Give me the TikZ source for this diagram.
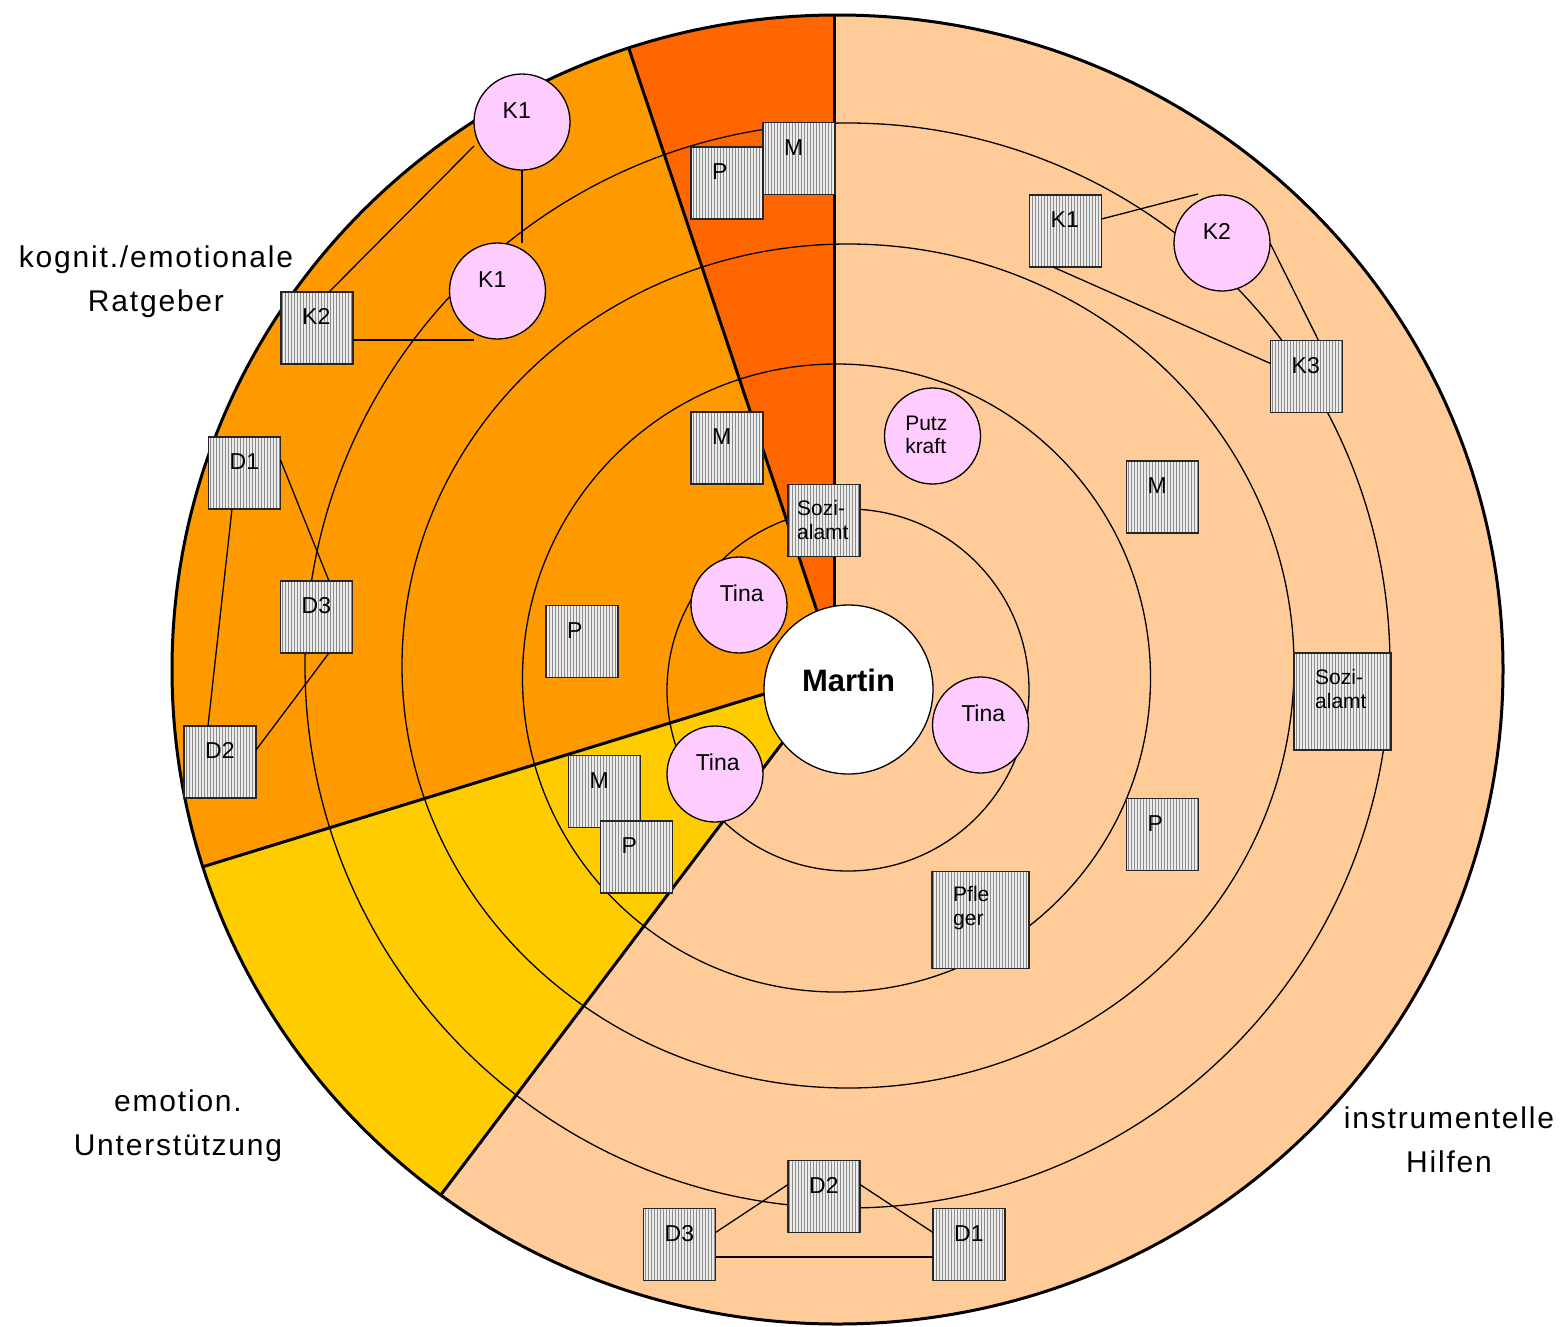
\documentclass[tikz,border=0pt]{standalone}
\usepackage{fontspec}
\setmainfont{Liberation Sans}
\usetikzlibrary{patterns.meta,calc}
\definecolor{peach}{HTML}{FFCC99}
\definecolor{redor}{HTML}{FF6600}
\definecolor{orng}{HTML}{FF9900}
\definecolor{yel}{HTML}{FFCC00}
\definecolor{pinkp}{HTML}{FFCCFF}
\begin{document}
\begin{tikzpicture}[x=1pt,y=-1pt,
  ring/.style={draw=black, line width=1.3pt},
  divider/.style={draw=black, line width=3pt},
  person/.style={circle, draw=black, line width=1.3pt, fill=pinkp, minimum size=96pt, inner sep=0pt, outer sep=0pt},
  inst/.style={rectangle, draw=black!85, line width=1.3pt, minimum size=72pt, inner sep=0pt, outer sep=0pt,
     preaction={fill=gray!15}, pattern={Lines[angle=90,distance=3pt,line width=1pt]}, pattern color=black!45},
  bigbox/.style={inst, minimum size=97pt},
  lab/.style 2 args={anchor=north west, inner sep=0pt, xshift=#1, yshift=#2, align=left, font=\fontsize{23}{27}\selectfont},
  smalllab/.style 2 args={lab={#1}{#2}, font=\fontsize{21}{24}\selectfont},
  link/.style={draw=black, line width=1.3pt},
  cat/.style={anchor=north, inner sep=0pt, align=center, font=\fontsize{30}{44.5}\selectfont\addfontfeature{LetterSpace=6}},
]
\useasboundingbox (0,0) rectangle (1563,1326);

% sectors
\begin{scope}
  \clip (837.5,669.5) ellipse [x radius=665.5pt, y radius=654.5pt];
  \fill[peach] (-100,-100) rectangle (1700,1450);
  \fill[redor] (834,-100) -- (834,672) -- (837.2,671.5) -- (579.2,-100) -- cycle;
  \fill[orng] (579.2,-100) -- (837.2,671.5) -- (-100,960) -- (-100,-100) -- cycle;
  \fill[yel] (-100,960) -- (836.5,671.6) -- (285.9,1400) -- (-100,1400) -- cycle;
  % rings
  \draw[ring] (848,690) circle [radius=181pt];
  \draw[ring] (836.5,678) circle [radius=314pt];
  \draw[ring] (848,666) ellipse [x radius=446pt, y radius=422pt];
  \draw[ring] (847.5,665.5) circle [radius=542.5pt];
  % dividers
  \draw[divider] (834,-100) -- (834,672);
  \draw[divider] (579.2,-100) -- (837.2,671.5);
  \draw[divider] (-100,960) -- (837.2,671.5);
  \draw[divider] (285.9,1400) -- (836,671.8);
\end{scope}
\draw[line width=3pt] (837.5,669.5) ellipse [x radius=665.5pt, y radius=654.5pt];

% centre
\node[circle, draw=black, line width=1.3pt, fill=white, minimum size=169pt, inner sep=0pt, outer sep=0pt,
  text depth=18pt, font=\bfseries\fontsize{31}{36}\selectfont] (martin) at (848.5,689.5) {Martin};

% persons (circles)
\node[person, label={[lab={-53.4pt}{56.8pt}]south east:{\strut K1}}] (k1a) at (522,122) {};
\node[person, label={[lab={-53.4pt}{56.8pt}]south east:{\strut K1}}] (k1b) at (497.5,291) {};
\node[person, label={[lab={-53.4pt}{56.8pt}]south east:{\strut K2}}] (k2b) at (1222,243) {};
\node[person, label={[smalllab={-61.4pt}{56pt}, font=\fontsize{21}{23}\selectfont]south east:{\strut Putz\\kraft}}] (putz) at (932.5,436) {};
\node[person, label={[lab={-53.4pt}{56.8pt}]south east:{\strut Tina}}] (tina1) at (739,605) {};
\node[person, label={[lab={-53.4pt}{56.8pt}]south east:{\strut Tina}}] (tina2) at (980.5,725) {};
\node[person, label={[lab={-53.4pt}{56.8pt}]south east:{\strut Tina}}] (tina3) at (715,774) {};

% institutions (boxes)
\node[inst, label={[lab={-51pt}{58.4pt}]south east:{\strut M}}] (mA) at (799,158.5) {};
\node[inst, label={[lab={-51pt}{58.4pt}]south east:{\strut P}}] (pA) at (727,183) {};
\node[inst, label={[lab={-51pt}{58.4pt}]south east:{\strut M}}] (mB) at (727,448) {};
\node[inst, label={[smalllab={-63pt}{57.8pt}]south east:{\strut Sozi-\\alamt}}] (soz1) at (824,520.5) {};
\node[inst, label={[lab={-51pt}{58.4pt}]south east:{\strut P}}] (pB) at (582,641.5) {};
\node[inst, label={[lab={-51pt}{58.4pt}]south east:{\strut M}}] (mC) at (604.5,791.5) {};
\node[inst, label={[lab={-51pt}{58.4pt}]south east:{\strut P}}] (pC) at (636.5,857) {};
\node[inst, label={[lab={-51pt}{58.4pt}]south east:{\strut K2}}] (k2a) at (317,328) {};
\node[inst, label={[lab={-51pt}{58.4pt}]south east:{\strut D1}}] (d1a) at (244.5,473) {};
\node[inst, label={[lab={-51pt}{58.4pt}]south east:{\strut D3}}] (d3a) at (316.5,617) {};
\node[inst, label={[lab={-51pt}{58.4pt}]south east:{\strut D2}}] (d2a) at (220,762) {};
\node[inst, label={[lab={-51pt}{58.4pt}]south east:{\strut K1}}] (k1c) at (1065.5,231) {};
\node[inst, label={[lab={-51pt}{58.4pt}]south east:{\strut K3}}] (k3) at (1306.5,376.5) {};
\node[inst, label={[lab={-51pt}{58.4pt}]south east:{\strut M}}] (mD) at (1162.5,497) {};
\node[bigbox, label={[smalllab={-76pt}{82.8pt}]south east:{\strut Sozi-\\alamt}}] (soz2) at (1342.5,701.5) {};
\node[inst, label={[lab={-51pt}{58.4pt}]south east:{\strut P}}] (pD) at (1162.5,834.5) {};
\node[bigbox, label={[smalllab={-76pt}{84.3pt}]south east:{\strut Pfle\\ger}}] (pfl) at (980.5,920) {};
\node[inst, label={[lab={-51pt}{58.4pt}]south east:{\strut D2}}] (d2b) at (824,1196.5) {};
\node[inst, label={[lab={-51pt}{58.4pt}]south east:{\strut D3}}] (d3b) at (679.5,1244.5) {};
\node[inst, label={[lab={-51pt}{58.4pt}]south east:{\strut D1}}] (d1b) at (969,1244.5) {};

% connectors
\coordinate (k2end) at ($(k2b.north)+(-24,-1)$);
\draw[link] ($(k1a.west)+(0,24)$) -- ($(k2a.north)+(12,0)$);
\draw[link] (k1a.south) -- (k1a.south |- k1b.north);
\draw[link] ($(k2a.east)+(0,12)$) -- ($(k1b.south)+(-24,1)$);
\draw[link] ($(d1a.south)+(-12.5,0)$) -- ($(d2a.north)+(-12,0)$);
\draw[link] ($(d1a.east)+(0,-13)$) -- ($(d3a.north)+(12.5,0)$);
\draw[link] ($(d3a.south)+(12.5,0)$) -- ($(d2a.east)+(0,-12)$);
\draw[link] ($(k1c.east)+(0,-12)$) -- (k2end);
\draw[link] ($(k1c.south)+(-12.5,0)$) -- ($(k3.west)+(0,-13)$);
\draw[link] (k2b.east) -- ($(k3.north)+(12,0)$);
\draw[link] ($(d3b.east)+(0,-12)$) -- ($(d2b.west)+(0,-12)$);
\draw[link] ($(d2b.east)+(0,-12)$) -- ($(d1b.west)+(0,-12)$);
\draw[link] ($(d3b.east)+(0,12.5)$) -- ($(d1b.west)+(0,12.5)$);

% category labels
\node[cat] (lkog) at (156,235.85) {\strut kognit./emotionale\\Ratgeber};
\node[cat] (lemo) at (178,1079.85) {\strut emotion.\\Unterstützung};
\node[cat] (linst) at (1449,1096.85) {\strut instrumentelle\\Hilfen};
\end{tikzpicture}
\end{document}
